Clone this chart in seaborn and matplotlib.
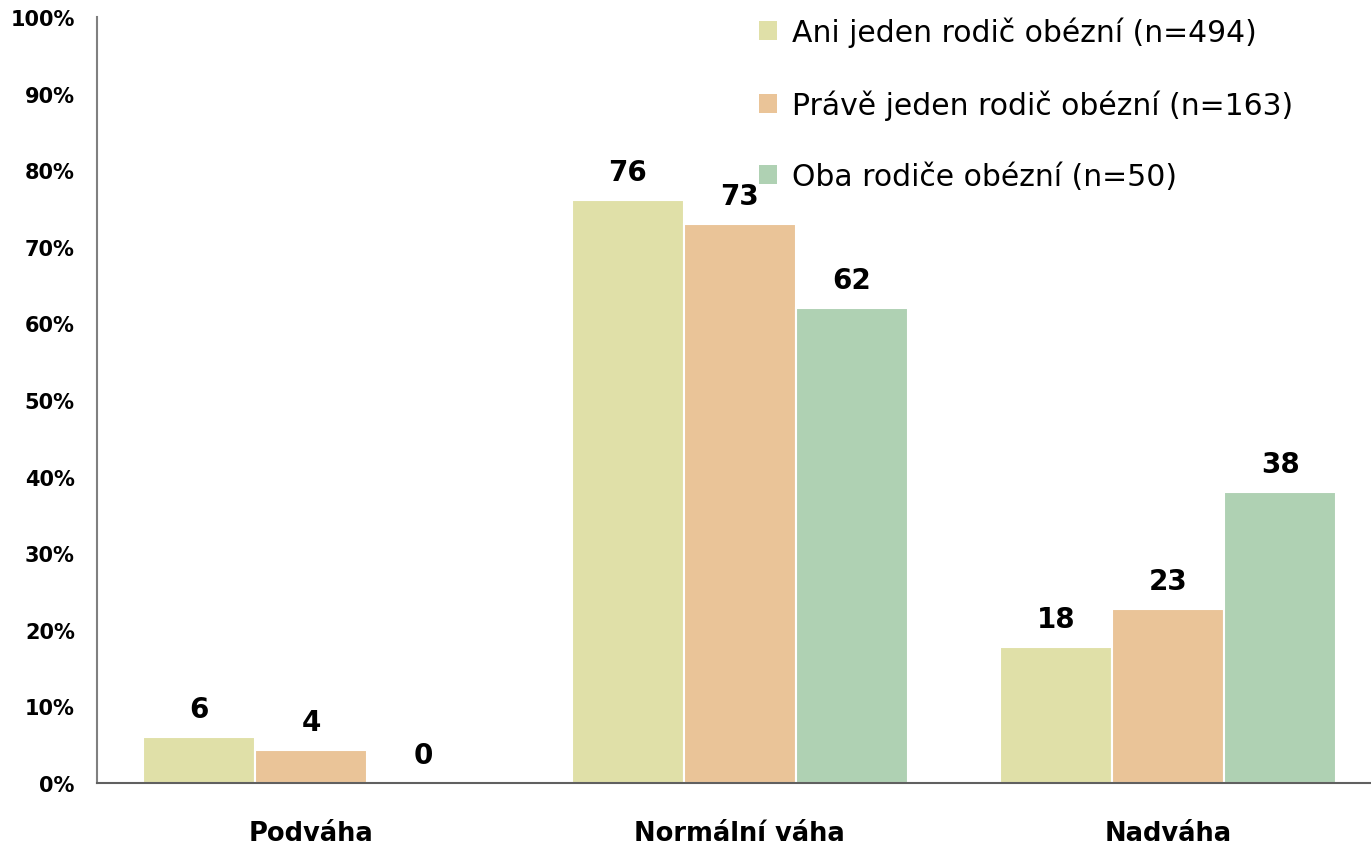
import seaborn as sns
import matplotlib.pyplot as plt
from matplotlib.patches import Patch
from matplotlib.ticker import FixedLocator, FuncFormatter
import pandas as pd

# kategorie hmotnosti dětí
kategorie = ['Podváha', 'Normální váha', 'Nadváha']
# skupiny podle obezity rodičů
skupiny = ['Ani jeden rodič obézní (n=494)',
           'Právě jeden rodič obézní (n=163)',
           'Oba rodiče obézní (n=50)']
# procenta
ani_jeden = [6.0, 76.1, 17.8]
prave_jeden = [4.3, 73.0, 22.7]
oba = [0.0, 62.0, 38.0]
barvy = ['#E0E0A8', '#EAC498', '#AFD1B3']

df = pd.DataFrame({
    'kategorie': kategorie * 3,
    'skupina': [skupiny[0]] * 3 + [skupiny[1]] * 3 + [skupiny[2]] * 3,
    'procento': ani_jeden + prave_jeden + oba,
})

sns.set_style('white')
plt.rcParams['font.family'] = ['DejaVu Sans']
plt.rcParams['text.color'] = 'black'
plt.rcParams['xtick.color'] = 'black'
plt.rcParams['ytick.color'] = 'black'

fig = plt.figure(figsize=(13.71, 8.45), dpi=100)
ax = fig.add_axes([97 / 1371, 1 - 784 / 845, 1 - 97 / 1371, (784 - 18) / 845])

sns.barplot(data=df, x='kategorie', y='procento', hue='skupina',
            order=kategorie, hue_order=skupiny, palette=barvy, saturation=1,
            width=0.785, edgecolor='white', linewidth=1.5,
            legend=False, ax=ax)

# popisky hodnot nad sloupci
for cont in ax.containers:
    ax.bar_label(cont, labels=[f'{round(b.get_height()):d}' for b in cont],
                 padding=10, fontsize=20, fontweight='bold', color='black')

ax.set_ylim(0, 100)
ax.set_xlim(-0.5, (1371 - 97) / 428.5 - 0.5)
ax.set_yticks(range(0, 101, 10))
ax.yaxis.set_major_formatter(FuncFormatter(lambda v, p: f'{v:.0f}%'))
ax.tick_params(axis='y', length=7, width=1.2, color='#808080',
               labelsize=15, pad=9, labelcolor='black')
for t in ax.get_yticklabels():
    t.set_fontweight('bold')

ax.tick_params(axis='x', which='major', length=0, labelsize=18.5, pad=27,
               labelcolor='black')
ax.xaxis.set_minor_locator(FixedLocator([0.5, 1.5]))
ax.tick_params(axis='x', which='minor', length=10, width=1.2, color='#808080')
for t in ax.get_xticklabels():
    t.set_fontweight('bold')

ax.set_xlabel('')
ax.set_ylabel('')
for s in ['top', 'right']:
    ax.spines[s].set_visible(False)
ax.spines['left'].set_color('#808080')
ax.spines['left'].set_linewidth(1.5)
ax.spines['bottom'].set_color('#606060')
ax.spines['bottom'].set_linewidth(1.5)

handles = [Patch(facecolor=c, edgecolor='none') for c in barvy]
fig.legend(handles, skupiny, loc='upper left',
           bbox_to_anchor=(759 / 1371, 1 - 18 / 845), frameon=False,
           fontsize=21.5, handlelength=0.6, handleheight=0.6,
           handletextpad=0.5, labelspacing=1.4, borderpad=0, borderaxespad=0)

fig.savefig('out.png', dpi=100)
